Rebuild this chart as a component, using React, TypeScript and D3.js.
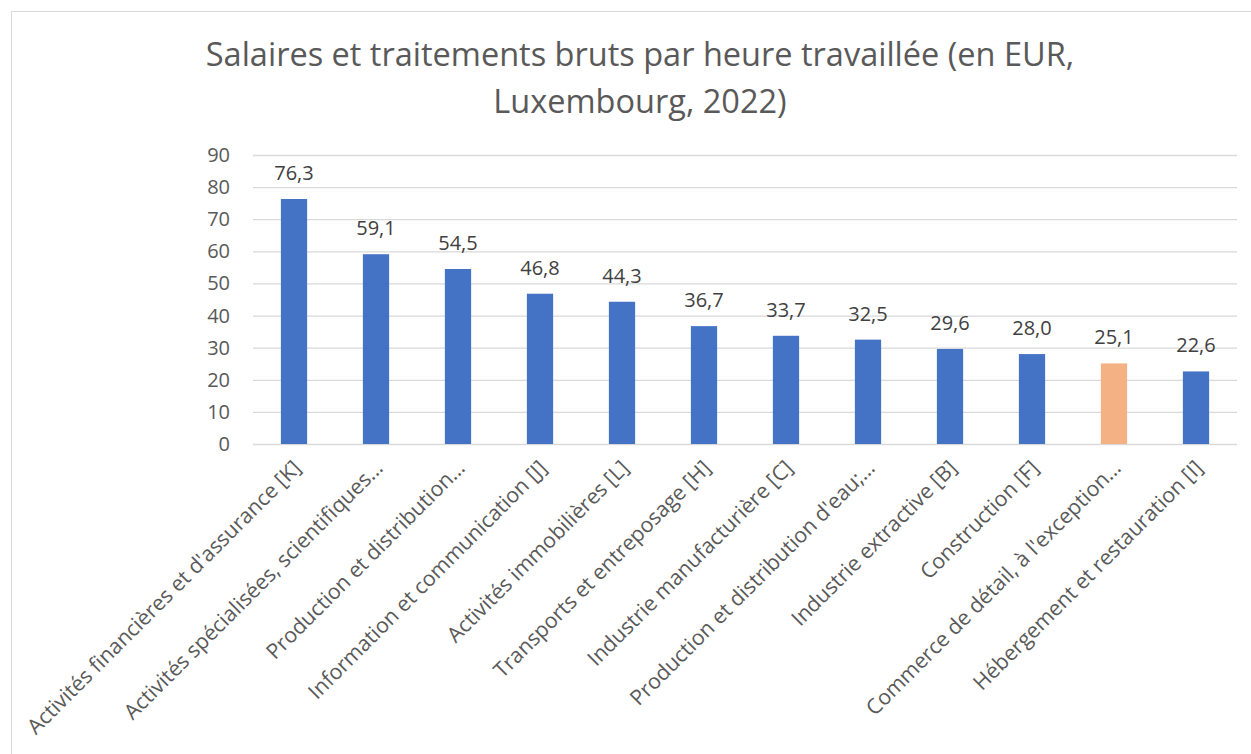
import React, { useEffect, useRef } from "react";
import * as d3 from "d3";

const categories = [
  "Activités financières et d'assurance [K]",
  "Activités spécialisées, scientifiques…",
  "Production et distribution…",
  "Information et communication [J]",
  "Activités immobilières [L]",
  "Transports et entreposage [H]",
  "Industrie manufacturière [C]",
  "Production et distribution d'eau;…",
  "Industrie extractive [B]",
  "Construction [F]",
  "Commerce de détail, à l'exception…",
  "Hébergement et restauration [I]",
];
const values = [76.3, 59.1, 54.5, 46.8, 44.3, 36.7, 33.7, 32.5, 29.6, 28.0, 25.1, 22.6];
const highlighted = [false, false, false, false, false, false, false, false, false, false, true, false];
const yTicks = [0, 10, 20, 30, 40, 50, 60, 70, 80, 90];
const titleLines = ["Salaires et traitements bruts par heure travaillée (en EUR,", "Luxembourg, 2022)"];

const W = 1251, H = 754;
const FONT = "'Open Sans', 'Noto Sans', sans-serif";

export default function App() {
  const ref = useRef<SVGSVGElement>(null);
  useEffect(() => {
    const svg = d3.select(ref.current);
    svg.selectAll("*").remove();
    const left = 253, right = 1237, top = 155, bottom = 444;
    const x = d3.scaleBand<string>().domain(categories).range([left, right]).paddingInner(0.68).paddingOuter(0.34);
    const y = d3.scaleLinear().domain([0, 90]).range([bottom, top]);

    svg.append("rect").attr("x", 0).attr("y", 0).attr("width", W).attr("height", H).attr("fill", "#fff");
    svg.append("rect").attr("x", 11.5).attr("y", 11.5).attr("width", W + 20).attr("height", H + 20)
      .attr("fill", "none").attr("stroke", "#d9d9d9").attr("stroke-width", 1);

    const t = svg.append("text").attr("text-anchor", "middle").attr("fill", "#595959")
      .attr("font-family", FONT).attr("font-size", 32.5);
    titleLines.forEach((l, i) => t.append("tspan").attr("x", 640).attr("y", 66 + i * 47).text(l));

    const g = svg.append("g");
    yTicks.forEach((v) => {
      g.append("line").attr("x1", left).attr("x2", right).attr("y1", y(v) + 0.5).attr("y2", y(v) + 0.5)
        .attr("stroke", "#d9d9d9").attr("stroke-width", 1.3);
      g.append("text").attr("x", 230).attr("y", y(v)).attr("dy", "0.35em").attr("text-anchor", "end")
        .attr("fill", "#595959").attr("font-family", FONT).attr("font-size", 20).text(String(v));
    });

    categories.forEach((c, i) => {
      const bx = x(c)!;
      g.append("rect").attr("x", bx).attr("y", y(values[i])).attr("width", x.bandwidth())
        .attr("height", y(0) - y(values[i])).attr("fill", highlighted[i] ? "#F4B183" : "#4472C4");
      g.append("text").attr("x", bx + x.bandwidth() / 2).attr("y", y(values[i]) - 19)
        .attr("text-anchor", "middle").attr("fill", "#404040").attr("font-family", FONT).attr("font-size", 20)
        .text(values[i].toFixed(1).replace(".", ","));
      const cx = bx + x.bandwidth() / 2 + 3;
      g.append("text").attr("transform", `translate(${cx},${464}) rotate(-45)`)
        .attr("text-anchor", "end").attr("fill", "#595959").attr("font-family", FONT).attr("font-size", 21.2)
        .attr("dy", "0.35em").text(c);
    });
  }, []);
  return (
    <svg ref={ref} width={W} height={H} style={{ position: "absolute", left: 0, top: 0 }} />
  );
}
